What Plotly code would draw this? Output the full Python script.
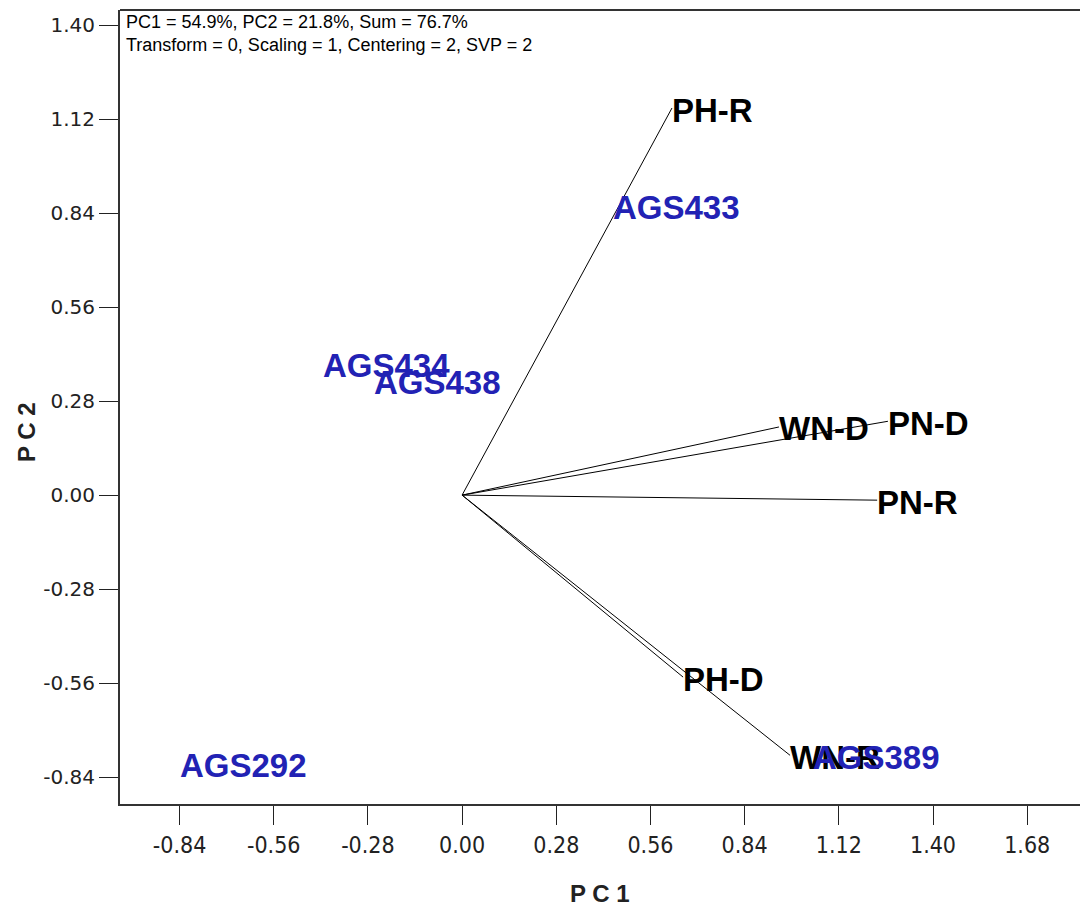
import plotly.graph_objects as go

# Environment vectors (PC1, PC2 end points)
env_names = ["PH-R", "PN-D", "WN-D", "PN-R", "PH-D", "WN-R"]
env_x = [0.624, 1.266, 0.942, 1.234, 0.657, 0.975]
env_y = [1.153, 0.220, 0.203, -0.015, -0.542, -0.775]

# Genotype scores
gen_names = ["AGS433", "AGS434", "AGS438", "AGS292", "AGS389"]
gen_x = [0.449, -0.413, -0.262, -0.838, 1.043]
gen_y = [0.864, 0.393, 0.340, -0.798, -0.777]

tick_vals = [-0.84, -0.56, -0.28, 0.00, 0.28, 0.56, 0.84, 1.12, 1.40, 1.68]
tick_text = ["-0.84", "-0.56", "-0.28", "0.00", "0.28", "0.56", "0.84", "1.12", "1.40", "1.68"]
ytick_vals = [-0.84, -0.56, -0.28, 0.00, 0.28, 0.56, 0.84, 1.12, 1.40]
ytick_text = ["-0.84", "-0.56", "-0.28", "0.00", "0.28", "0.56", "0.84", "1.12", "1.40"]

info_lines = ["PC1 = 54.9%, PC2 = 21.8%, Sum = 76.7%",
              "Transform = 0, Scaling = 1, Centering = 2, SVP = 2"]

fig = go.Figure()

for name, ex, ey in zip(env_names, env_x, env_y):
    fig.add_trace(go.Scatter(x=[0, ex], y=[0, ey], mode="lines",
                             line=dict(color="black", width=1),
                             hoverinfo="skip", showlegend=False))

annotations = []
for name, ex, ey in zip(env_names, env_x, env_y):
    annotations.append(dict(x=ex, y=ey, xref="x", yref="y", text="<b>%s</b>" % name,
                            showarrow=False, xanchor="left", yanchor="middle",
                            xshift=-2, yshift=-2,
                            font=dict(family="Liberation Sans", size=33, color="black")))
for name, gx, gy in zip(gen_names, gen_x, gen_y):
    annotations.append(dict(x=gx, y=gy, xref="x", yref="y", text="<b>%s</b>" % name,
                            showarrow=False, xanchor="left", yanchor="middle",
                            xshift=-2, yshift=-2,
                            font=dict(family="Liberation Sans", size=33, color="#2222b4")))

annotations.append(dict(x=0.004, y=1.0, xref="paper", yref="paper",
                        text="<br>".join(info_lines), showarrow=False,
                        xanchor="left", yanchor="top", align="left",
                        font=dict(family="Liberation Sans", size=18, color="black")))
annotations.append(dict(x=0.5, y=0, xref="paper", yref="paper", yanchor="middle", yshift=-89,
                        text="<b>P C 1</b>", showarrow=False,
                        font=dict(family="Liberation Sans", size=24, color="#222")))
annotations.append(dict(x=0, y=0.5, xref="paper", yref="paper", xanchor="center",
                        xshift=-94, yshift=-25,
                        text="<b>P C 2</b>", showarrow=False, textangle=-90,
                        font=dict(family="Liberation Sans", size=24, color="#222")))

fig.update_layout(
    width=1080, height=909,
    margin=dict(l=120, r=0, t=10, b=105),
    plot_bgcolor="white", paper_bgcolor="white",
    annotations=annotations,
    shapes=[dict(type="line", xref="paper", yref="paper", x0=0, x1=1, y0=1, y1=1,
                 line=dict(color="#333", width=2))],
)
fig.update_xaxes(range=[-1.017, 1.837], tickvals=tick_vals, ticktext=tick_text,
                 ticks="outside", ticklen=19, tickcolor="#222", tickwidth=1,
                 showline=True, linecolor="#333", linewidth=2,
                 showgrid=False, zeroline=False,
                 tickfont=dict(family="Liberation Sans Narrow, DejaVu Sans Condensed, DejaVu Sans",
                               size=23, color="#222"))
fig.update_yaxes(range=[-0.920, 1.445], tickvals=ytick_vals, ticktext=ytick_text,
                 ticks="outside", ticklen=19, tickcolor="#222", tickwidth=1,
                 showline=True, linecolor="#333", linewidth=2,
                 showgrid=False, zeroline=False,
                 tickfont=dict(family="DejaVu Sans", size=20, color="#222"))

fig.write_html("out.html")
